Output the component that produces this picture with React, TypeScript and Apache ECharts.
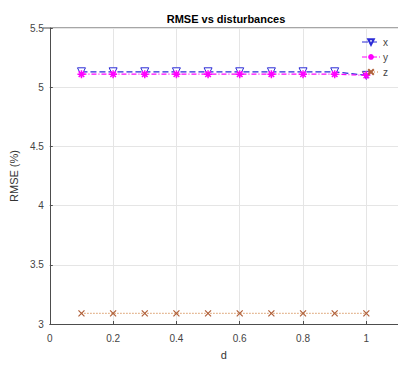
import React, { useEffect, useRef } from "react";
import * as echarts from "echarts";

const dValues = [0.1, 0.2, 0.3, 0.4, 0.5, 0.6, 0.7, 0.8, 0.9, 1.0];
const xSeries = [5.13, 5.13, 5.13, 5.13, 5.13, 5.13, 5.13, 5.13, 5.13, 5.1];
const ySeries = [5.11, 5.11, 5.11, 5.11, 5.11, 5.11, 5.11, 5.11, 5.11, 5.1];
const zSeries = [3.09, 3.09, 3.09, 3.09, 3.09, 3.09, 3.09, 3.09, 3.09, 3.09];
const seriesNames = ["x", "y", "z"];

const FONT = "Liberation Sans, Arial, sans-serif";
const STAR = "path://M5,0L5,10M0,5L10,5M1.5,1.5L8.5,8.5M8.5,1.5L1.5,8.5";
const CROSS = "path://M0,0L10,10M10,0L0,10";

export default function App() {
  const ref = useRef<HTMLDivElement>(null);
  useEffect(() => {
    const chart = echarts.init(ref.current!, null, { renderer: "svg" });
    const pair = (arr: number[]) => dValues.map((d, i) => [d, arr[i]]);
    chart.setOption({
      animation: false,
      backgroundColor: "#ffffff",
      title: {
        text: "RMSE vs disturbances",
        left: 221,
        textAlign: "center",
        top: 8,
        textStyle: { fontFamily: FONT, fontSize: 11, fontWeight: "bold", color: "#000" },
      },
      legend: {
        orient: "vertical",
        right: 5,
        top: 32,
        itemGap: 5,
        itemWidth: 18,
        itemHeight: 7,
        data: seriesNames,
        lineStyle: { width: 1 },
        textStyle: { fontFamily: FONT, fontSize: 10, color: "#444", padding: [0, 0, 0, -2] },
      },
      grid: { left: 43, top: 28, right: -3, bottom: 32, containLabel: false },
      xAxis: {
        type: "value",
        min: 0,
        max: 1.1,
        interval: 0.2,
        name: "d",
        nameLocation: "middle",
        nameGap: 25,
        nameTextStyle: { fontFamily: FONT, fontSize: 11, color: "#333" },
        axisLine: { show: true, onZero: false, lineStyle: { color: "#4d4d4d", width: 1 } },
        axisTick: { show: true, inside: true, length: 3, lineStyle: { color: "#4d4d4d" } },
        axisLabel: {
          showMaxLabel: false,
          fontFamily: FONT,
          fontSize: 10,
          color: "#444",
          margin: 9,
          formatter: (v: number) => String(Math.round(v * 10) / 10),
        },
        splitLine: { show: true, lineStyle: { color: "#e5e5e5", width: 1 } },
      },
      yAxis: {
        type: "value",
        min: 3,
        max: 5.5,
        interval: 0.5,
        name: "RMSE (%)",
        nameLocation: "middle",
        nameGap: 23,
        nameTextStyle: { fontFamily: FONT, fontSize: 11, color: "#333" },
        axisLine: { show: true, lineStyle: { color: "#4d4d4d", width: 1 } },
        axisTick: { show: true, inside: true, length: 3, lineStyle: { color: "#4d4d4d" } },
        axisLabel: { fontFamily: FONT, fontSize: 10, color: "#444", margin: 6 },
        splitLine: { show: true, lineStyle: { color: "#e5e5e5", width: 1 } },
      },
      graphic: [
        {
          type: "line",
          shape: { x1: 43, y1: 28, x2: 398, y2: 28 },
          style: { stroke: "#4d4d4d", lineWidth: 1 },
          silent: true,
        },
      ],
      series: [
        {
          name: "x",
          type: "line",
          data: pair(xSeries),
          symbol: "triangle",
          symbolRotate: 180,
          symbolSize: 8,
          showAllSymbol: true,
          lineStyle: { color: "#2b2bd6", width: 1.2, type: [6, 3] },
          itemStyle: { color: "#ffffff", borderColor: "#2b2bd6", borderWidth: 1 },
          z: 2,
        },
        {
          name: "y",
          type: "line",
          data: pair(ySeries),
          symbol: STAR,
          symbolSize: 8,
          showAllSymbol: true,
          lineStyle: { color: "#ff00ff", width: 1.2, type: [5, 2, 1, 2] },
          itemStyle: { color: "#ff00ff", borderColor: "#ff00ff", borderWidth: 1.5 },
          z: 3,
        },
        {
          name: "z",
          type: "line",
          data: pair(zSeries),
          symbol: CROSS,
          symbolSize: 6,
          showAllSymbol: true,
          lineStyle: { color: "#d08040", width: 1.2, type: [1, 2] },
          itemStyle: { color: "#b0603a", borderColor: "#b0603a", borderWidth: 1.2 },
          z: 2,
        },
      ],
    });
    return () => chart.dispose();
  }, []);
  return <div ref={ref} style={{ width: 398, height: 365, position: "absolute", left: 0, top: 0 }} />;
}
